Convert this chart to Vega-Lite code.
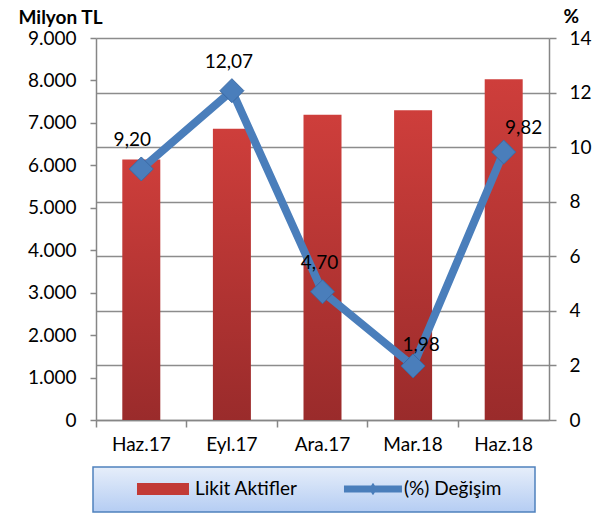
{
  "$schema": "https://vega.github.io/schema/vega-lite/v6.json",
  "width": 453,
  "height": 382,
  "autosize": {"type": "none"},
  "padding": {"left": 96, "top": 38, "right": 49, "bottom": 101},
  "background": "white",
  "config": {
    "font": "Lato",
    "view": {"stroke": null},
    "axis": {
      "labelFont": "Lato",
      "labelFontSize": 19,
      "labelColor": "#000000",
      "titleFont": "Lato",
      "titleColor": "#000000",
      "domainColor": "#868686",
      "tickColor": "#868686",
      "domainWidth": 1.5,
      "tickWidth": 1.5
    }
  },
  "data": {
    "values": [
      {"period": "Haz.17", "likit": 6140, "degisim": 9.20, "label": "9,20"},
      {"period": "Eyl.17", "likit": 6860, "degisim": 12.07, "label": "12,07"},
      {"period": "Ara.17", "likit": 7190, "degisim": 4.70, "label": "4,70"},
      {"period": "Mar.18", "likit": 7300, "degisim": 1.98, "label": "1,98"},
      {"period": "Haz.18", "likit": 8030, "degisim": 9.82, "label": "9,82"}
    ]
  },
  "encoding": {
    "x": {
      "field": "period",
      "type": "nominal",
      "sort": null,
      "scale": {"paddingInner": 0, "paddingOuter": 0},
      "axis": {
        "title": null,
        "labelAngle": 0,
        "bandPosition": 0,
        "tickSize": 7,
        "labelPadding": 8,
        "grid": false
      }
    }
  },
  "layer": [
    {
      "mark": {
        "type": "bar",
        "width": 38,
        "fill": {
          "gradient": "linear",
          "x1": 0, "y1": 0, "x2": 0, "y2": 1,
          "stops": [
            {"offset": 0, "color": "#CE3E3B"},
            {"offset": 1, "color": "#9A2B2B"}
          ]
        }
      },
      "encoding": {
        "y": {
          "field": "likit",
          "type": "quantitative",
          "scale": {"domain": [0, 9000], "nice": false},
          "axis": {
            "title": "Milyon TL",
            "titleFontWeight": "bold",
            "titleFontSize": 19,
            "titleAngle": 0,
            "titleAlign": "left",
            "titleBaseline": "alphabetic",
            "titleX": -78,
            "titleY": -15,
            "values": [0, 1000, 2000, 3000, 4000, 5000, 6000, 7000, 8000, 9000],
            "labelExpr": "replace(format(datum.value, ','), ',', '.')",
            "tickSize": 6,
            "labelPadding": 14,
            "grid": false
          }
        }
      }
    },
    {
      "encoding": {
        "y": {
          "field": "degisim",
          "type": "quantitative",
          "scale": {"domain": [0, 14], "nice": false},
          "axis": {
            "orient": "right",
            "title": "%",
            "titleFontWeight": "bold",
            "titleFontSize": 19,
            "titleAngle": 0,
            "titleAlign": "left",
            "titleBaseline": "alphabetic",
            "titleX": 14,
            "titleY": -16,
            "values": [0, 2, 4, 6, 8, 10, 12, 14],
            "grid": true,
            "gridColor": "#8C8C8C",
            "gridWidth": 1.5,
            "tickSize": 7,
            "labelPadding": 13
          }
        }
      },
      "layer": [
        {
          "mark": {"type": "line", "strokeWidth": 8, "strokeCap": "round", "strokeJoin": "round"},
          "encoding": {
            "color": {
              "datum": "(%) Değişim",
              "scale": {"domain": ["Likit Aktifler", "(%) Değişim"], "range": ["#C23A36", "#4A7EBB"]},
              "legend": {
                "orient": "none",
                "legendX": -3,
                "legendY": 429,
                "direction": "horizontal",
                "title": null,
                "padding": 13,
                "symbolSize": 7056,
                "clipHeight": 18,
                "labelFontSize": 19,
                "labelFont": "Lato",
                "labelColor": "#000000",
                "labelOffset": 5,
                "columnPadding": 2,
                "fillColor": "#D5E3F7",
                "strokeColor": "#4F81BD",
                "encode": {
                  "legend": {
                    "update": {
                      "fill": {"value": {"gradient": "linear", "x1": 0, "y1": 0, "x2": 0, "y2": 1, "stops": [{"offset": 0, "color": "#E6EEFA"}, {"offset": 1, "color": "#B5CDF3"}]}},
                      "stroke": {"value": "#4F81BD"},
                      "strokeWidth": {"value": 1.5}
                    }
                  },
                  "entries": {
                    "update": {
                      "width": {"value": 207}
                    }
                  },
                  "symbols": {
                    "update": {
                      "shape": {"signal": "datum.value === 'Likit Aktifler' ? 'M-0.262,-0.143H0.976V0.143H-0.262Z' : 'M-0.31,-0.083H1.07V0.083H-0.31Z M0.381,-0.15L0.48,0L0.381,0.15L0.28,0Z'"},
                      "fill": {"signal": "datum.value === 'Likit Aktifler' ? '#C23A36' : '#4A7EBB'"},
                      "stroke": {"value": "transparent"},
                      "strokeWidth": {"value": 0},
                      "opacity": {"value": 1},
                      "size": {"value": 7056}
                    }
                  }
                }
              }
            }
          }
        },
        {
          "mark": {"type": "point", "shape": "diamond", "size": 576, "filled": true, "fill": "#4A7EBB", "stroke": "#3A6AA5", "strokeWidth": 1, "opacity": 1}
        },
        {
          "transform": [{"filter": "datum.period === 'Haz.17'"}],
          "mark": {"type": "text", "fontSize": 19, "font": "Lato", "color": "#000000", "dx": -9, "dy": -29},
          "encoding": {"text": {"field": "label"}}
        },
        {
          "transform": [{"filter": "datum.period === 'Eyl.17' || datum.period === 'Ara.17'"}],
          "mark": {"type": "text", "fontSize": 19, "font": "Lato", "color": "#000000", "dx": -3, "dy": -29},
          "encoding": {"text": {"field": "label"}}
        },
        {
          "transform": [{"filter": "datum.period === 'Mar.18'"}],
          "mark": {"type": "text", "fontSize": 19, "font": "Lato", "color": "#000000", "dx": 8, "dy": -21},
          "encoding": {"text": {"field": "label"}}
        },
        {
          "transform": [{"filter": "datum.period === 'Haz.18'"}],
          "mark": {"type": "text", "fontSize": 19, "font": "Lato", "color": "#000000", "dx": 20, "dy": -24},
          "encoding": {"text": {"field": "label"}}
        }
      ]
    }
  ],
  "resolve": {"scale": {"y": "independent"}}
}
